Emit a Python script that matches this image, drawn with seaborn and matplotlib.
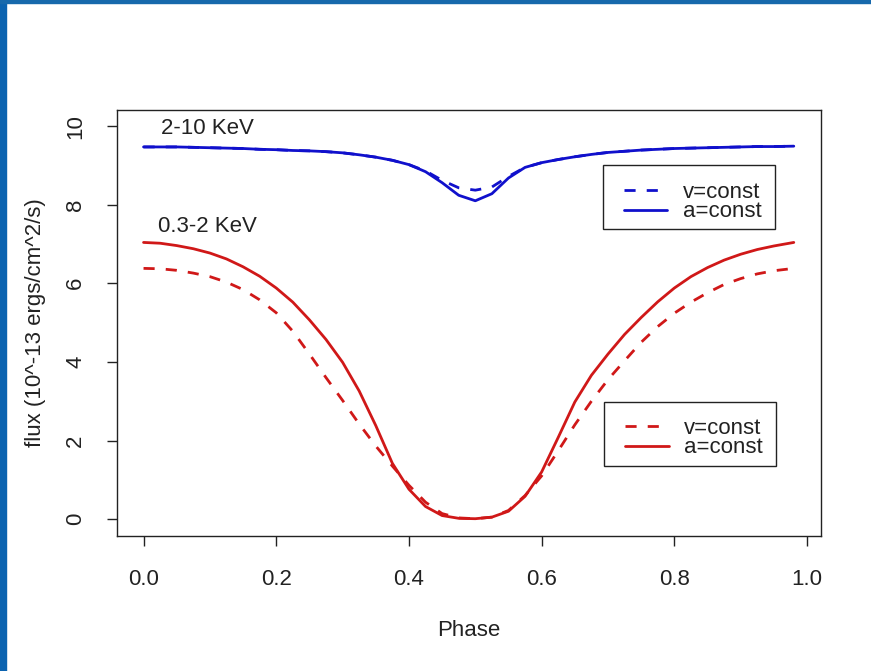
import matplotlib
matplotlib.use("Agg")
import matplotlib.pyplot as plt
from matplotlib.patches import Rectangle
import pandas as pd
import seaborn as sns

# Orbital phase grid shared by all light curves
phase = [0.000, 0.025, 0.050, 0.075, 0.100, 0.125, 0.150, 0.175, 0.200, 0.225,
         0.250, 0.275, 0.300, 0.325, 0.350, 0.375, 0.400, 0.425, 0.450, 0.475,
         0.500, 0.525, 0.550, 0.575, 0.600, 0.625, 0.650, 0.675, 0.700, 0.725,
         0.750, 0.775, 0.800, 0.825, 0.850, 0.875, 0.900, 0.925, 0.950, 0.980]

# Hard band (2-10 KeV) flux
hard_v_const = [9.47, 9.47, 9.47, 9.46, 9.45, 9.44, 9.43, 9.41, 9.40, 9.38,
                9.37, 9.35, 9.32, 9.27, 9.21, 9.13, 9.02, 8.86, 8.62, 8.43,
                8.37, 8.45, 8.72, 8.95, 9.07, 9.15, 9.22, 9.28, 9.33, 9.36,
                9.39, 9.41, 9.43, 9.44, 9.45, 9.46, 9.47, 9.48, 9.48, 9.49]
hard_a_const = [9.47, 9.47, 9.47, 9.46, 9.45, 9.44, 9.43, 9.41, 9.40, 9.38,
                9.37, 9.35, 9.32, 9.27, 9.21, 9.13, 9.02, 8.84, 8.56, 8.24,
                8.10, 8.28, 8.68, 8.95, 9.07, 9.15, 9.22, 9.28, 9.33, 9.36,
                9.39, 9.41, 9.43, 9.44, 9.45, 9.46, 9.47, 9.48, 9.48, 9.49]

# Soft band (0.3-2 KeV) flux
soft_v_const = [6.38, 6.37, 6.33, 6.26, 6.17, 6.03, 5.84, 5.58, 5.25, 4.78,
                4.20, 3.60, 3.02, 2.42, 1.86, 1.35, 0.86, 0.43, 0.14, 0.03,
                0.01, 0.05, 0.22, 0.60, 1.10, 1.74, 2.40, 3.00, 3.55, 4.03,
                4.50, 4.90, 5.24, 5.52, 5.76, 5.97, 6.12, 6.24, 6.32, 6.38]
soft_a_const = [7.04, 7.02, 6.96, 6.88, 6.77, 6.62, 6.42, 6.18, 5.88, 5.52,
                5.07, 4.57, 3.99, 3.26, 2.38, 1.42, 0.76, 0.32, 0.09, 0.02,
                0.01, 0.05, 0.20, 0.58, 1.20, 2.08, 2.98, 3.66, 4.20, 4.70,
                5.13, 5.53, 5.88, 6.17, 6.40, 6.59, 6.74, 6.86, 6.95, 7.04]

band_labels = ["2-10 KeV", "0.3-2 KeV"]
legend_labels = ["v=const", "a=const"]
x_ticks = [0.0, 0.2, 0.4, 0.6, 0.8, 1.0]
y_ticks = [0, 2, 4, 6, 8, 10]

BLUE = "#1010CC"
RED = "#D01818"
INK = "#222222"

sns.set_style("ticks")
plt.rcParams["font.family"] = ["Liberation Sans", "DejaVu Sans"]
plt.rcParams["font.size"] = 16

df = pd.DataFrame({
    "phase": phase,
    "hard_v": hard_v_const, "hard_a": hard_a_const,
    "soft_v": soft_v_const, "soft_a": soft_a_const,
})

fig = plt.figure(figsize=(8.71, 6.71), dpi=100)
ax = fig.add_axes([117 / 871, 135 / 671, 704 / 871, 426 / 671])

LW = 2.0
DASH = (4.0, 4.0)

series = [("hard_v", BLUE, True), ("hard_a", BLUE, False),
          ("soft_v", RED, True), ("soft_a", RED, False)]
lines = {}
for col, color, dashed in series:
    sns.lineplot(data=df, x="phase", y=col, ax=ax, color=color, lw=LW,
                 estimator=None, sort=False)
    ln = ax.lines[-1]
    ln.set_solid_joinstyle("round")
    ln.set_dash_joinstyle("round")
    if dashed:
        ln.set_dashes(DASH)
    lines[col] = ln

ax.set_xlim(-0.04, 1.021)
ax.set_ylim(-0.43, 10.41)
ax.set_xticks(x_ticks)
ax.set_xticklabels([f"{t:.1f}" for t in x_ticks])
ax.set_yticks(y_ticks)
ax.set_yticklabels([str(t) for t in y_ticks], rotation=90, va="center")
ax.tick_params(axis="both", direction="out", length=7.2, width=1.0,
               color=INK, labelsize=16, labelcolor=INK)
ax.tick_params(axis="x", pad=16.5)
ax.tick_params(axis="y", pad=15)
for sp in ax.spines.values():
    sp.set_visible(True)
    sp.set_linewidth(1.0)
    sp.set_color(INK)

ax.set_xlabel("Phase", fontsize=16, color=INK, labelpad=22)
ax.set_ylabel("flux (10^-13 ergs/cm^2/s)", fontsize=16, color=INK,
              labelpad=14)

ax.text(0.096, 9.93, band_labels[0], ha="center", va="center",
        fontsize=16, color=INK)
ax.text(0.096, 7.45, band_labels[1], ha="center", va="center",
        fontsize=16, color=INK)

legend_kw = dict(frameon=False, loc="upper left", borderpad=0,
                 borderaxespad=0, handlelength=1.95, handletextpad=0.7,
                 labelspacing=-0.07, fontsize=16, labelcolor=INK)
leg_hard = ax.legend([lines["hard_v"], lines["hard_a"]], legend_labels,
                     bbox_to_anchor=(0.720, 0.831), **legend_kw)
ax.add_artist(leg_hard)
ax.legend([lines["soft_v"], lines["soft_a"]], legend_labels,
          bbox_to_anchor=(0.722, 0.277), **legend_kw)

# legend frames
for x0, y0 in [(0.690, 0.7207), (0.692, 0.164)]:
    ax.add_patch(Rectangle((x0, y0), 0.244, 0.150, transform=ax.transAxes,
                           fill=False, edgecolor=INK, lw=1.0, zorder=5))

# slide frame: blue strips along the left and top edges
fig.patches.append(Rectangle((0, 0), 6 / 871, 1, transform=fig.transFigure,
                             color="#0B63B0", zorder=10))
fig.patches.append(Rectangle((0, 1 - 2.5 / 671), 1, 2.5 / 671,
                             transform=fig.transFigure, color="#1769AC",
                             zorder=10))

fig.savefig("out.png", dpi=100)
